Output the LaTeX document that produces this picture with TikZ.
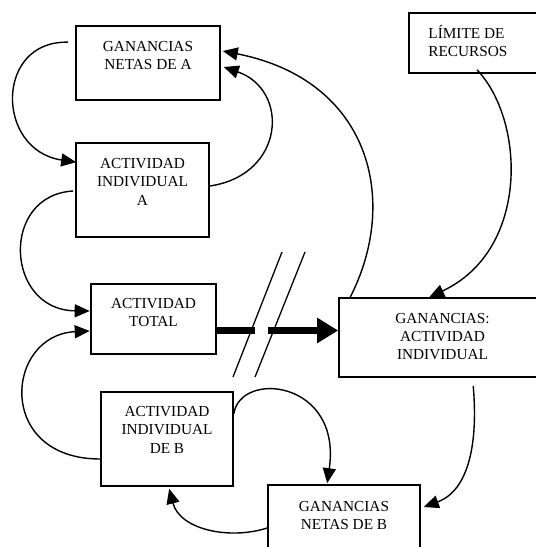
\documentclass[tikz,border=0pt]{standalone}
\usepackage{fontspec}
\setmainfont{Liberation Serif}
\usetikzlibrary{arrows.meta,calc}
\begin{document}
\begin{tikzpicture}[x=1pt,y=-1pt,
  box/.style={draw, line width=1.6pt, rectangle, inner sep=0pt},
  lbl/.style={inner sep=0pt, align=center, font=\fontsize{15.3}{18.3}\selectfont, anchor=north},
  link/.style={line width=1.4pt, -{Triangle[length=15pt,width=13pt]}},
  thick link/.style={line width=7pt},
  slash/.style={line width=1.3pt},
  ]
\clip (0,0) rectangle (536,547);
\fill[white] (0,0) rectangle (536,547);

% boxes
\node[box, minimum width=144pt, minimum height=74pt] (gna) at (148,63) {};
\node[lbl] (gnaT) at ($(gna.north)+(0,16)$) {GANANCIAS\\NETAS DE A};

\node[box, minimum width=133pt, minimum height=94pt] (aia) at (142.5,190) {};
\node[lbl] (aiaT) at ($(aia.north)+(0,16)$) {ACTIVIDAD\\INDIVIDUAL\\A};

\node[box, minimum width=125pt, minimum height=70pt] (at) at (153.5,319) {};
\node[lbl] (atT) at ($(at.north)+(0,15)$) {ACTIVIDAD\\TOTAL};

\node[box, minimum width=132pt, minimum height=94pt] (aib) at (167,439) {};
\node[lbl] (aibT) at ($(aib.north)+(0,15)$) {ACTIVIDAD\\INDIVIDUAL\\DE B};

\node[box, minimum width=152pt, minimum height=75pt] (gnb) at (344,522.5) {};
\node[lbl] (gnbT) at ($(gnb.north)+(0,16.5)$) {GANANCIAS\\NETAS DE B};

\node[box, minimum width=207pt, minimum height=79pt] (gai) at (442.5,337.5) {};
\node[lbl] (gaiT) at ($(gai.north)+(0,15.5)$) {GANANCIAS:\\ACTIVIDAD\\INDIVIDUAL};

\node[box, minimum width=136pt, minimum height=60pt] (lim) at (477,43) {};
\node[lbl, anchor=north west, align=left] (limT) at ($(lim.north west)+(20,13)$) {LÍMITE DE\\RECURSOS};

% connectors
\draw[link] ($(gna.north west)+(-7,17)$) .. controls (-5,40) and (-5,150) .. ($(aia.north west)+(1,20)$);
\draw[link] ($(aia.east)+(0,-4)$) .. controls (285,175) and (290,90) .. ($(gna.east)+(3,4)$);
\draw[link] ($(aia.west)+(-2,1)$) .. controls (0,195) and (5,310) .. ($(at.west)+(-0.5,-8)$);
\draw[link] ($(aib.west)+(0,20)$) .. controls (-5,459) and (5,335) .. ($(at.west)+(-0.5,12)$);
\draw[link] ($(gai.north west)+(12,0)$) .. controls (400,200) and (370,80) .. ($(gna.east)+(2,-12)$);
\draw[link] ($(lim.south)+(0,-4)$) .. controls (525,120) and (530,250) .. ($(gai.north west)+(91,0)$);
\draw[link] ($(aib.east)+(0,-25)$) .. controls (240,370) and (342,380) .. ($(gnb.north west)+(60,-1)$);
\draw[link] ($(gai.south west)+(135,8)$) .. controls (478,440) and (470,490) .. ($(gnb.east)+(3,-15.5)$);
\draw[link] ($(gnb.west)+(0,5.5)$) .. controls (230,540) and (180,530) .. ($(aib.south west)+(69,2)$);

% thick broken arrow
\coordinate (brkA) at (255,330.5);
\coordinate (brkB) at (268,330.5);
\draw[thick link] (at.east |- brkA) -- (brkA);
\draw[thick link, -{Triangle[length=21pt,width=24pt]}] (brkB) -- (gai.west |- brkB);

% break marks
\draw[slash] (282,252) -- (233,377);
\draw[slash] (305,252) -- (255,377);
\end{tikzpicture}
\end{document}
